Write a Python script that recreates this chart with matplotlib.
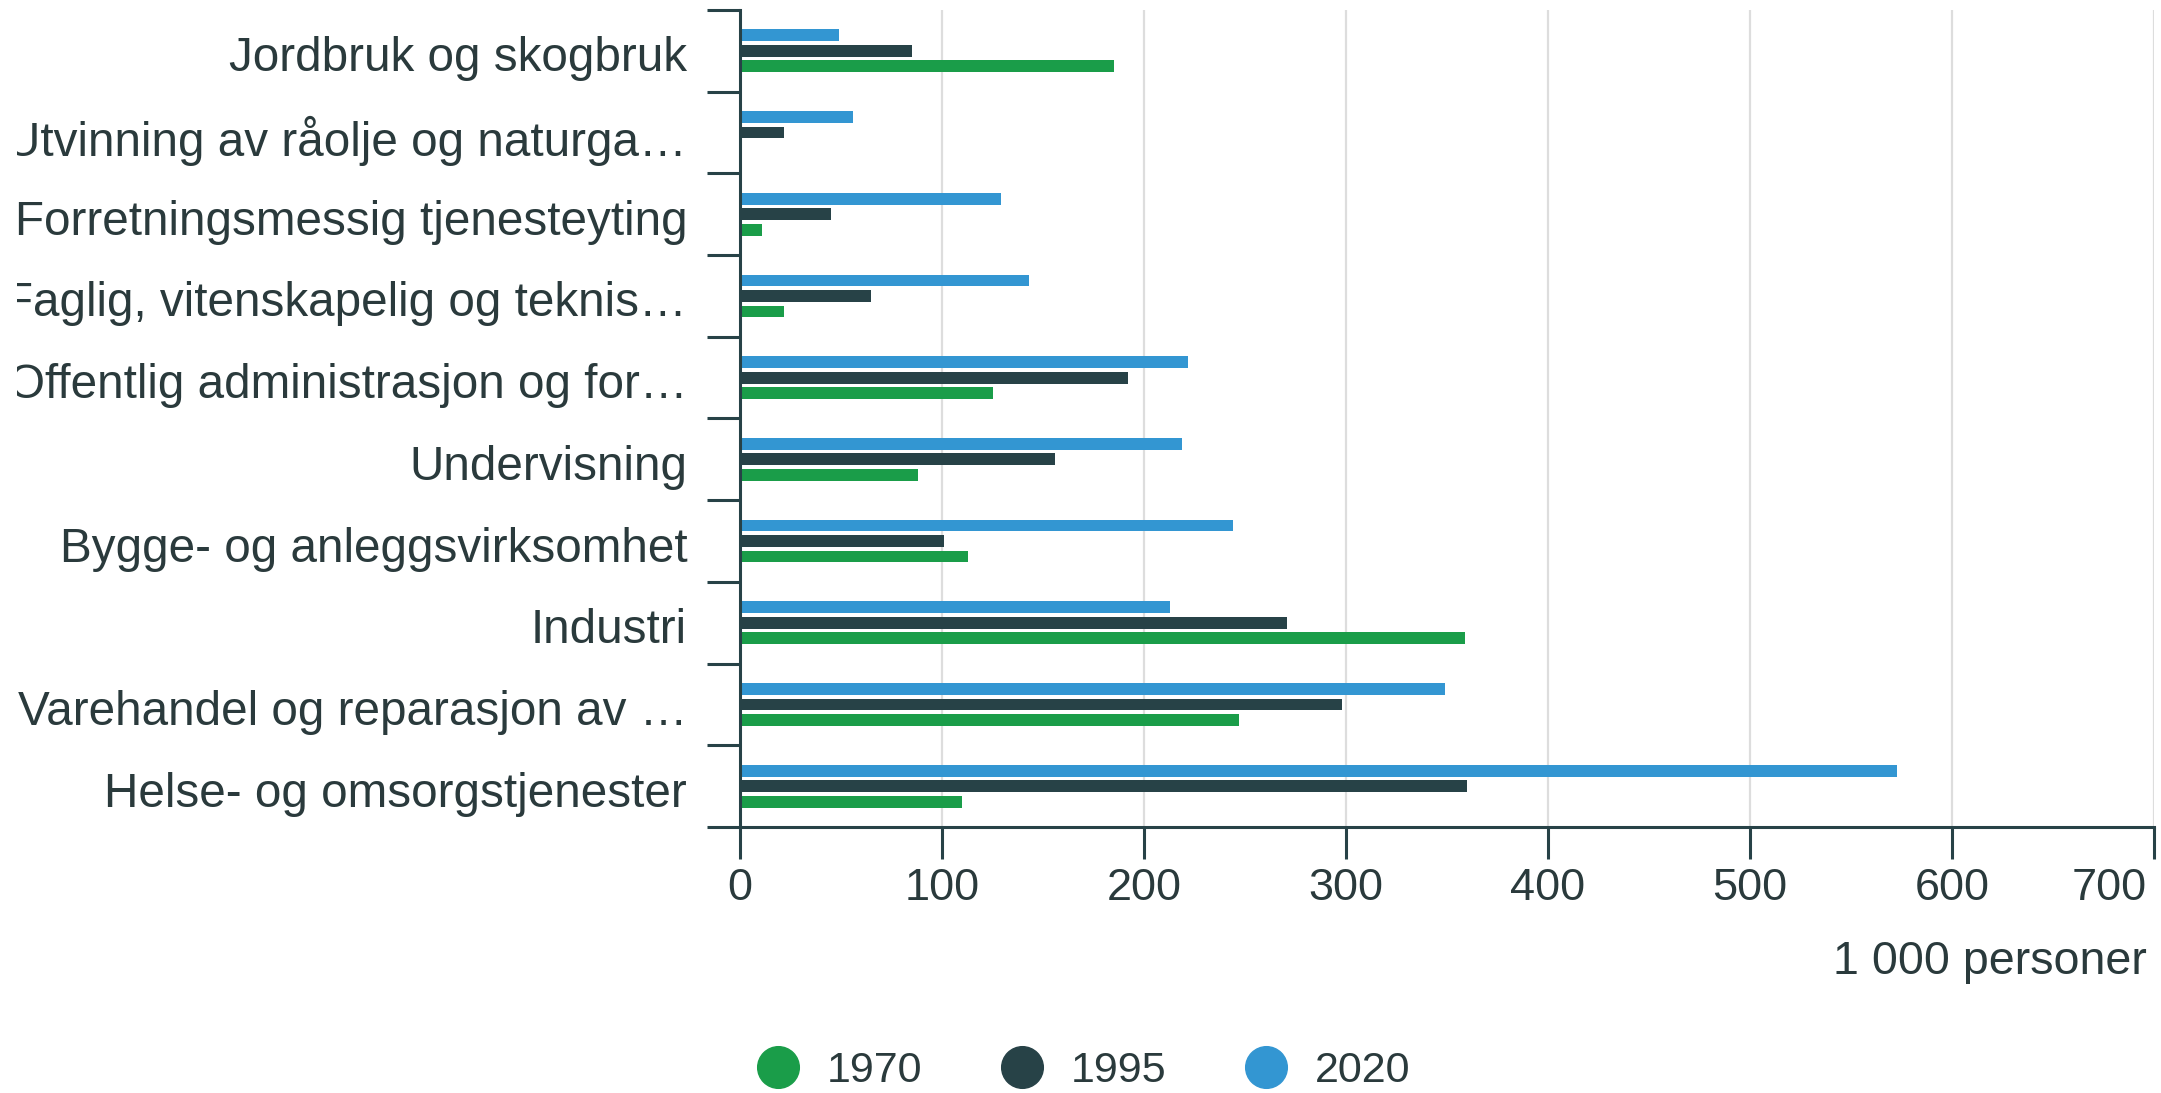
import matplotlib
matplotlib.use("Agg")
import matplotlib.pyplot as plt
import matplotlib.transforms as mtransforms
from matplotlib.lines import Line2D
import numpy as np

plt.rcParams['font.family'] = ['Liberation Sans', 'DejaVu Sans']

categories = [
    "Jordbruk og skogbruk",
    "Utvinning av råolje og naturga…",
    "Forretningsmessig tjenesteyting",
    "Faglig, vitenskapelig og teknis…",
    "Offentlig administrasjon og for…",
    "Undervisning",
    "Bygge- og anleggsvirksomhet",
    "Industri",
    "Varehandel og reparasjon av …",
    "Helse- og omsorgstjenester",
]
years = ["1970", "1995", "2020"]
v1970 = [185, 0, 11, 22, 125, 88, 113, 359, 247, 110]
v1995 = [85, 22, 45, 65, 192, 156, 101, 271, 298, 360]
v2020 = [49, 56, 129, 143, 222, 219, 244, 213, 349, 573]
xticks = [0, 100, 200, 300, 400, 500, 600, 700]
unit_label = "1 000 personer"

c1970 = "#1a9d49"
c1995 = "#274247"
c2020 = "#3396d2"
dark = "#274247"
text_c = "#2a3a3c"

W, H = 2161, 1093
fig = plt.figure(figsize=(W / 100, H / 100), dpi=100)
x0, x1, y0, y1 = 740, 2154, 10, 827
ax = fig.add_axes([x0 / W, 1 - y1 / H, (x1 - x0) / W, (y1 - y0) / H])

pos = np.arange(len(categories))
h = 0.145
off = 0.19
ax.barh(pos - off, v2020, height=h, color=c2020, zorder=3)
ax.barh(pos, v1995, height=h, color=c1995, zorder=3)
ax.barh(pos + off, v1970, height=h, color=c1970, zorder=3)

ax.set_ylim(len(categories) - 0.5, -0.5)
ax.set_xlim(0, 700)

ax.set_yticks(pos)
ax.set_yticklabels(categories)
ax.set_yticks(np.arange(-0.5, len(categories), 1), minor=True)
ax.tick_params(axis='y', which='major', length=0, pad=38, labelsize=34.3, labelcolor=text_c)
ax.tick_params(axis='y', which='minor', length=23.8, width=2.2, color=dark)
clip_bb = mtransforms.TransformedBbox(mtransforms.Bbox([[17 / W, 0], [1, 1]]), fig.transFigure)
for lab in ax.get_yticklabels():
    lab.set_transform(lab.get_transform() + mtransforms.ScaledTranslation(0, -3 / 100, fig.dpi_scale_trans))
    lab.set_clip_box(clip_bb)
    lab.set_clip_on(True)

ax.set_xticks(xticks)
ax.set_xticklabels([str(t) for t in xticks])
ax.tick_params(axis='x', which='major', length=23, width=2.2, color=dark, pad=6.5,
               labelsize=32.5, labelcolor=text_c)
last = ax.get_xticklabels()[-1]
last.set_horizontalalignment('right')
last.set_transform(last.get_transform() + mtransforms.ScaledTranslation(-7 / 100, 0, fig.dpi_scale_trans))

for s in ['top', 'right']:
    ax.spines[s].set_visible(False)
for s in ['left', 'bottom']:
    ax.spines[s].set_linewidth(2.2)
    ax.spines[s].set_color(dark)
    ax.spines[s].set_zorder(4)

ax.xaxis.grid(True, color='#dddddd', linewidth=1.6)
ax.set_axisbelow(True)

fig.text(2147 / W, 1 - 962 / H, unit_label, ha='right', va='center', fontsize=33.6, color=text_c)

handles = [Line2D([], [], marker='o', linestyle='none', markersize=30, color=c)
           for c in (c1970, c1995, c2020)]
fig.legend(handles, years, loc='center', bbox_to_anchor=(1083.6 / W, 1 - 1071 / H),
           ncol=3, frameon=False, fontsize=31, handlelength=1.0, handletextpad=0.64,
           columnspacing=1.81, borderpad=0, borderaxespad=0, labelcolor=text_c)

fig.savefig("out.png", dpi=100, facecolor='white')
